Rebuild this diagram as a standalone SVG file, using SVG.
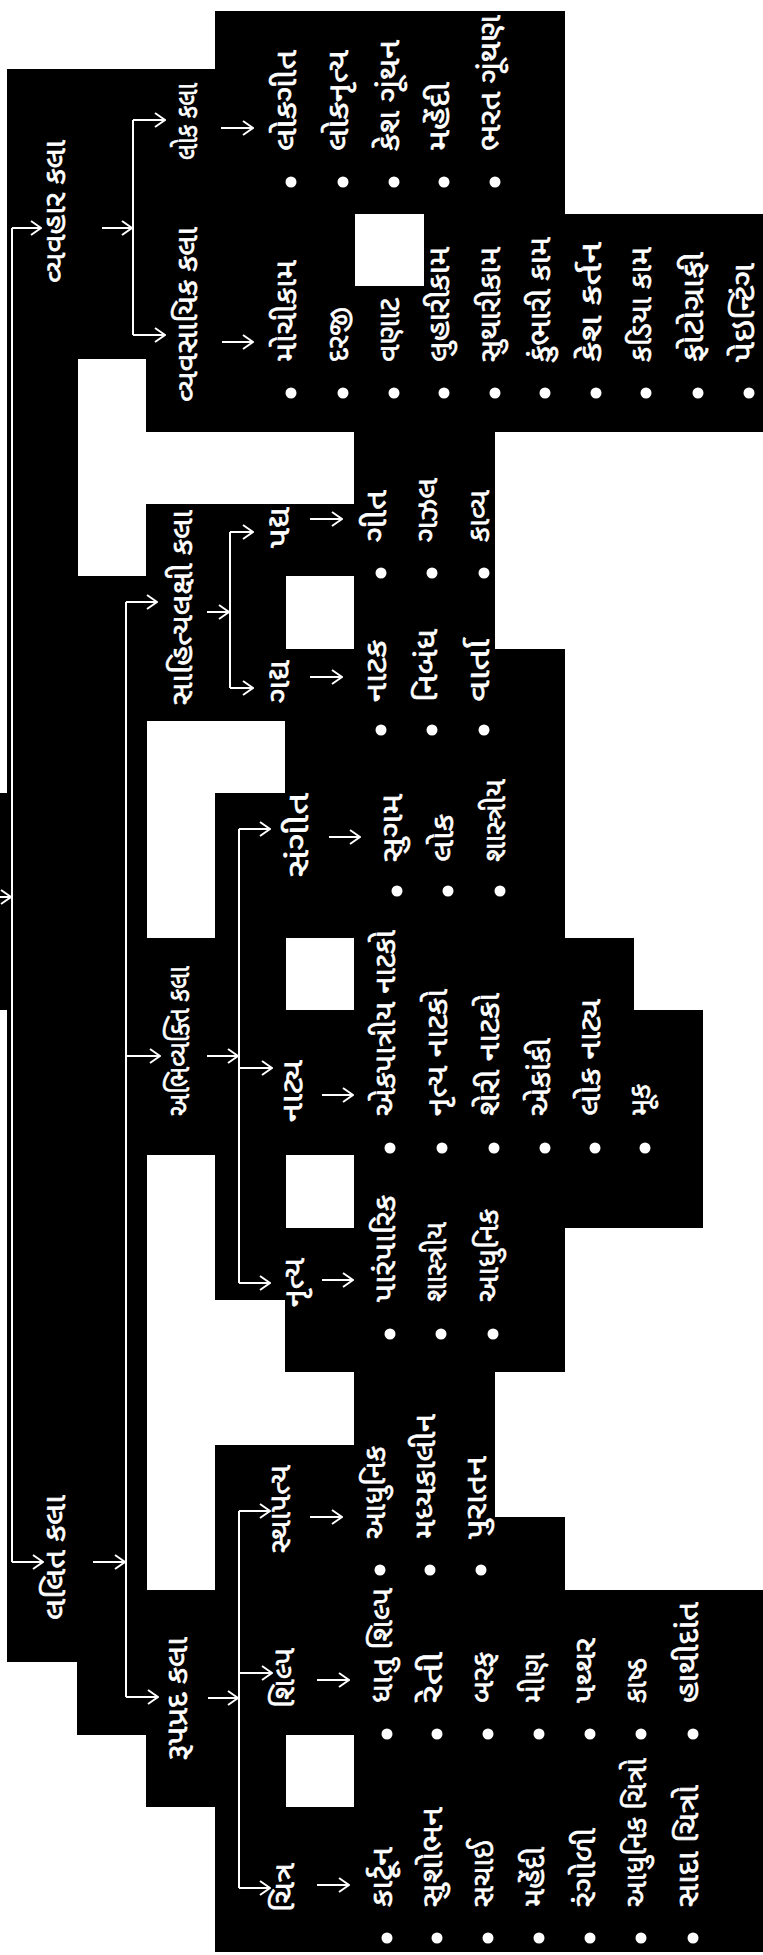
<svg xmlns="http://www.w3.org/2000/svg" width="763" height="1955" viewBox="0 0 763 1955">
<style>
.bg{fill:#000}
.t{fill:#fff;stroke:#fff;stroke-width:0.6;font-family:"Noto Sans Gujarati","Noto Serif Gujarati","Lohit Gujarati","Shruti","Noto Sans",sans-serif;font-size:29px;dominant-baseline:central}
.c{stroke:#fff;stroke-width:2;fill:none}
.b{fill:#fff}
</style>
<defs>
<marker id="ah" viewBox="0 0 12 16" refX="11" refY="8" markerWidth="12" markerHeight="16" orient="auto" markerUnits="userSpaceOnUse">
<path d="M1,1 L11,8 L1,15" stroke="#fff" stroke-width="2" fill="none"/>
</marker>
</defs>
<rect x="0" y="0" width="763" height="1955" fill="#fff"/>
<g id="background" shape-rendering="crispEdges">
<rect class="bg" x="0" y="793" width="8" height="217"/>
<rect class="bg" x="7" y="69" width="71" height="1593"/>
<rect class="bg" x="77" y="69" width="70" height="290"/>
<rect class="bg" x="77" y="576" width="70" height="1159"/>
<rect class="bg" x="146" y="69" width="70" height="363"/>
<rect class="bg" x="146" y="504" width="70" height="217"/>
<rect class="bg" x="146" y="938" width="70" height="217"/>
<rect class="bg" x="146" y="1590" width="70" height="217"/>
<rect class="bg" x="215" y="11" width="71" height="421"/>
<rect class="bg" x="215" y="504" width="71" height="217"/>
<rect class="bg" x="215" y="793" width="71" height="507"/>
<rect class="bg" x="215" y="1445" width="71" height="507"/>
<rect class="bg" x="285" y="11" width="70" height="421"/>
<rect class="bg" x="285" y="504" width="70" height="72"/>
<rect class="bg" x="285" y="649" width="70" height="289"/>
<rect class="bg" x="285" y="1010" width="70" height="145"/>
<rect class="bg" x="285" y="1228" width="70" height="144"/>
<rect class="bg" x="285" y="1445" width="70" height="290"/>
<rect class="bg" x="285" y="1807" width="70" height="145"/>
<rect class="bg" x="354" y="11" width="71" height="203"/>
<rect class="bg" x="354" y="286" width="71" height="1666"/>
<rect class="bg" x="424" y="11" width="71" height="1941"/>
<rect class="bg" x="494" y="11" width="71" height="421"/>
<rect class="bg" x="494" y="649" width="71" height="723"/>
<rect class="bg" x="494" y="1517" width="71" height="435"/>
<rect class="bg" x="564" y="214" width="70" height="218"/>
<rect class="bg" x="564" y="938" width="70" height="290"/>
<rect class="bg" x="564" y="1590" width="70" height="362"/>
<rect class="bg" x="633" y="214" width="70" height="218"/>
<rect class="bg" x="633" y="1010" width="70" height="218"/>
<rect class="bg" x="633" y="1590" width="70" height="362"/>
<rect class="bg" x="702" y="214" width="61" height="218"/>
<rect class="bg" x="702" y="1590" width="61" height="362"/>
</g>
<g id="connectors">
<path class="c" d="M-5,897 H11" marker-end="url(#ah)"/>
<path class="c" d="M12,228 V1562"/>
<path class="c" d="M12,228 H41" marker-end="url(#ah)"/>
<path class="c" d="M12,1562 H43" marker-end="url(#ah)"/>
<path class="c" d="M102,228 H132" marker-end="url(#ah)"/>
<path class="c" d="M133,120 V335"/>
<path class="c" d="M133,120 H165" marker-end="url(#ah)"/>
<path class="c" d="M133,335 H165" marker-end="url(#ah)"/>
<path class="c" d="M221,128 H253" marker-end="url(#ah)"/>
<path class="c" d="M222,342 H253" marker-end="url(#ah)"/>
<path class="c" d="M93,1562 H125" marker-end="url(#ah)"/>
<path class="c" d="M126,602 V1697"/>
<path class="c" d="M126,602 H157" marker-end="url(#ah)"/>
<path class="c" d="M126,1056 H160" marker-end="url(#ah)"/>
<path class="c" d="M126,1697 H158" marker-end="url(#ah)"/>
<path class="c" d="M207,612 H229" marker-end="url(#ah)"/>
<path class="c" d="M230,532 V688"/>
<path class="c" d="M230,532 H253" marker-end="url(#ah)"/>
<path class="c" d="M230,688 H253" marker-end="url(#ah)"/>
<path class="c" d="M207,1056 H238" marker-end="url(#ah)"/>
<path class="c" d="M239,829 V1283"/>
<path class="c" d="M239,829 H270" marker-end="url(#ah)"/>
<path class="c" d="M239,1068 H272" marker-end="url(#ah)"/>
<path class="c" d="M239,1283 H270" marker-end="url(#ah)"/>
<path class="c" d="M208,1698 H238" marker-end="url(#ah)"/>
<path class="c" d="M239,1511 V1888"/>
<path class="c" d="M239,1511 H270" marker-end="url(#ah)"/>
<path class="c" d="M239,1673 H272" marker-end="url(#ah)"/>
<path class="c" d="M239,1888 H270" marker-end="url(#ah)"/>
<path class="c" d="M310,519 H342" marker-end="url(#ah)"/>
<path class="c" d="M310,677 H342" marker-end="url(#ah)"/>
<path class="c" d="M329,837 H360" marker-end="url(#ah)"/>
<path class="c" d="M322,1095 H353" marker-end="url(#ah)"/>
<path class="c" d="M322,1280 H353" marker-end="url(#ah)"/>
<path class="c" d="M310,1517 H342" marker-end="url(#ah)"/>
<path class="c" d="M317,1680 H349" marker-end="url(#ah)"/>
<path class="c" d="M317,1885 H349" marker-end="url(#ah)"/>
</g>
<g id="n-vyavahar"><text class="t" transform="translate(58,283) rotate(-90)" textLength="143" lengthAdjust="spacingAndGlyphs">વ્યવહાર કલા</text></g>
<g id="n-lalit"><text class="t" transform="translate(58,1620) rotate(-90)" textLength="125" lengthAdjust="spacingAndGlyphs">લલિત કલા</text></g>
<g id="n-lok"><text class="t" transform="translate(190,160) rotate(-90)" textLength="77" lengthAdjust="spacingAndGlyphs">લોક કલા</text></g>
<g id="n-vyavsayik"><text class="t" transform="translate(190,402) rotate(-90)" textLength="175" lengthAdjust="spacingAndGlyphs">વ્યવસાયિક કલા</text></g>
<g id="n-sahitya"><text class="t" transform="translate(185,705) rotate(-90)" textLength="195" lengthAdjust="spacingAndGlyphs">સાહિત્યલક્ષી કલા</text></g>
<g id="n-abhivyakti"><text class="t" transform="translate(182,1116) rotate(-90)" textLength="150" lengthAdjust="spacingAndGlyphs">અભિવ્યક્તિ કલા</text></g>
<g id="n-rooppradh"><text class="t" transform="translate(180,1760) rotate(-90)" textLength="123" lengthAdjust="spacingAndGlyphs">રૂપપ્રદ કલા</text></g>
<g id="n-padya"><text class="t" transform="translate(282,548) rotate(-90)" textLength="41" lengthAdjust="spacingAndGlyphs">પદ્ય</text></g>
<g id="n-gadya"><text class="t" transform="translate(282,703) rotate(-90)" textLength="43" lengthAdjust="spacingAndGlyphs">ગદ્ય</text></g>
<g id="n-sangeet"><text class="t" transform="translate(301,877) rotate(-90)" textLength="84" lengthAdjust="spacingAndGlyphs">સંગીત</text></g>
<g id="n-natya"><text class="t" transform="translate(295,1122) rotate(-90)" textLength="62" lengthAdjust="spacingAndGlyphs">નાટ્ય</text></g>
<g id="n-nritya"><text class="t" transform="translate(297,1307) rotate(-90)" textLength="49" lengthAdjust="spacingAndGlyphs">નૃત્ય</text></g>
<g id="n-sthapatya"><text class="t" transform="translate(283,1553) rotate(-90)" textLength="88" lengthAdjust="spacingAndGlyphs">સ્થાપત્ય</text></g>
<g id="n-shilp"><text class="t" transform="translate(287,1708) rotate(-90)" textLength="60" lengthAdjust="spacingAndGlyphs">શિલ્પ</text></g>
<g id="n-chitra"><text class="t" transform="translate(287,1912) rotate(-90)" textLength="49" lengthAdjust="spacingAndGlyphs">ચિત્ર</text></g>
<g id="list-vyavsayik">
<g id="i-v1"><circle class="b" cx="291" cy="393" r="5.5"/><text class="t" transform="translate(289,362) rotate(-90)" textLength="102" lengthAdjust="spacingAndGlyphs">મોચીકામ</text></g>
<g id="i-v2"><circle class="b" cx="343" cy="393" r="5.5"/><text class="t" transform="translate(341,362) rotate(-90)" textLength="55" lengthAdjust="spacingAndGlyphs">દરજી</text></g>
<g id="i-v3"><circle class="b" cx="394" cy="393" r="5.5"/><text class="t" transform="translate(392,362) rotate(-90)" textLength="64" lengthAdjust="spacingAndGlyphs">વણાટ</text></g>
<g id="i-v4"><circle class="b" cx="444" cy="393" r="5.5"/><text class="t" transform="translate(442,362) rotate(-90)" textLength="115" lengthAdjust="spacingAndGlyphs">લુહારીકામ</text></g>
<g id="i-v5"><circle class="b" cx="495" cy="393" r="5.5"/><text class="t" transform="translate(493,362) rotate(-90)" textLength="115" lengthAdjust="spacingAndGlyphs">સુથારીકામ</text></g>
<g id="i-v6"><circle class="b" cx="545" cy="393" r="5.5"/><text class="t" transform="translate(543,362) rotate(-90)" textLength="125" lengthAdjust="spacingAndGlyphs">કુંભારી કામ</text></g>
<g id="i-v7"><circle class="b" cx="596" cy="393" r="5.5"/><text class="t" transform="translate(594,362) rotate(-90)" textLength="120" lengthAdjust="spacingAndGlyphs">કેશ કર્તન</text></g>
<g id="i-v8"><circle class="b" cx="646" cy="393" r="5.5"/><text class="t" transform="translate(644,362) rotate(-90)" textLength="115" lengthAdjust="spacingAndGlyphs">કડિયા કામ</text></g>
<g id="i-v9"><circle class="b" cx="698" cy="393" r="5.5"/><text class="t" transform="translate(696,362) rotate(-90)" textLength="110" lengthAdjust="spacingAndGlyphs">ફોટોગ્રાફી</text></g>
<g id="i-v10"><circle class="b" cx="749" cy="393" r="5.5"/><text class="t" transform="translate(747,362) rotate(-90)" textLength="99" lengthAdjust="spacingAndGlyphs">પેઇન્ટિંગ</text></g>
</g>
<g id="list-lok">
<g id="i-l1"><circle class="b" cx="291" cy="182" r="5.5"/><text class="t" transform="translate(289,151) rotate(-90)" textLength="101" lengthAdjust="spacingAndGlyphs">લોકગીત</text></g>
<g id="i-l2"><circle class="b" cx="343" cy="182" r="5.5"/><text class="t" transform="translate(341,151) rotate(-90)" textLength="101" lengthAdjust="spacingAndGlyphs">લોકનૃત્ય</text></g>
<g id="i-l3"><circle class="b" cx="394" cy="182" r="5.5"/><text class="t" transform="translate(392,151) rotate(-90)" textLength="111" lengthAdjust="spacingAndGlyphs">કેશ ગૂંથન</text></g>
<g id="i-l4"><circle class="b" cx="444" cy="182" r="5.5"/><text class="t" transform="translate(442,151) rotate(-90)" textLength="69" lengthAdjust="spacingAndGlyphs">મહેંદી</text></g>
<g id="i-l5"><circle class="b" cx="495" cy="182" r="5.5"/><text class="t" transform="translate(493,151) rotate(-90)" textLength="136" lengthAdjust="spacingAndGlyphs">ભરત ગૂંથણ</text></g>
</g>
<g id="list-padya">
<g id="i-p1"><circle class="b" cx="381" cy="573" r="5.5"/><text class="t" transform="translate(379,542) rotate(-90)" textLength="52" lengthAdjust="spacingAndGlyphs">ગીત</text></g>
<g id="i-p2"><circle class="b" cx="432" cy="573" r="5.5"/><text class="t" transform="translate(430,542) rotate(-90)" textLength="64" lengthAdjust="spacingAndGlyphs">ગઝલ</text></g>
<g id="i-p3"><circle class="b" cx="484" cy="573" r="5.5"/><text class="t" transform="translate(482,542) rotate(-90)" textLength="52" lengthAdjust="spacingAndGlyphs">કાવ્ય</text></g>
</g>
<g id="list-gadya">
<g id="i-g1"><circle class="b" cx="381" cy="730" r="5.5"/><text class="t" transform="translate(379,702) rotate(-90)" textLength="62" lengthAdjust="spacingAndGlyphs">નાટક</text></g>
<g id="i-g2"><circle class="b" cx="432" cy="730" r="5.5"/><text class="t" transform="translate(430,702) rotate(-90)" textLength="73" lengthAdjust="spacingAndGlyphs">નિબંધ</text></g>
<g id="i-g3"><circle class="b" cx="484" cy="730" r="5.5"/><text class="t" transform="translate(482,702) rotate(-90)" textLength="63" lengthAdjust="spacingAndGlyphs">વાર્તા</text></g>
</g>
<g id="list-sangeet">
<g id="i-s1"><circle class="b" cx="397" cy="891" r="5.5"/><text class="t" transform="translate(395,862) rotate(-90)" textLength="68" lengthAdjust="spacingAndGlyphs">સુગમ</text></g>
<g id="i-s2"><circle class="b" cx="448" cy="891" r="5.5"/><text class="t" transform="translate(446,862) rotate(-90)" textLength="48" lengthAdjust="spacingAndGlyphs">લોક</text></g>
<g id="i-s3"><circle class="b" cx="500" cy="891" r="5.5"/><text class="t" transform="translate(498,862) rotate(-90)" textLength="83" lengthAdjust="spacingAndGlyphs">શાસ્ત્રીય</text></g>
</g>
<g id="list-natya">
<g id="i-n1"><circle class="b" cx="390" cy="1148" r="5.5"/><text class="t" transform="translate(388,1116) rotate(-90)" textLength="186" lengthAdjust="spacingAndGlyphs">એકપાત્રીય નાટકો</text></g>
<g id="i-n2"><circle class="b" cx="442" cy="1148" r="5.5"/><text class="t" transform="translate(440,1116) rotate(-90)" textLength="127" lengthAdjust="spacingAndGlyphs">નૃત્ય નાટકો</text></g>
<g id="i-n3"><circle class="b" cx="494" cy="1148" r="5.5"/><text class="t" transform="translate(492,1116) rotate(-90)" textLength="123" lengthAdjust="spacingAndGlyphs">શેરી નાટકો</text></g>
<g id="i-n4"><circle class="b" cx="545" cy="1148" r="5.5"/><text class="t" transform="translate(543,1116) rotate(-90)" textLength="78" lengthAdjust="spacingAndGlyphs">એકાંકી</text></g>
<g id="i-n5"><circle class="b" cx="595" cy="1148" r="5.5"/><text class="t" transform="translate(593,1116) rotate(-90)" textLength="117" lengthAdjust="spacingAndGlyphs">લોક નાટ્ય</text></g>
<g id="i-n6"><circle class="b" cx="645" cy="1148" r="5.5"/><text class="t" transform="translate(643,1116) rotate(-90)" textLength="32" lengthAdjust="spacingAndGlyphs">મૂક</text></g>
</g>
<g id="list-nritya">
<g id="i-r1"><circle class="b" cx="390" cy="1334" r="5.5"/><text class="t" transform="translate(388,1302) rotate(-90)" textLength="107" lengthAdjust="spacingAndGlyphs">પારંપારિક</text></g>
<g id="i-r2"><circle class="b" cx="441" cy="1334" r="5.5"/><text class="t" transform="translate(439,1302) rotate(-90)" textLength="80" lengthAdjust="spacingAndGlyphs">શાસ્ત્રીય</text></g>
<g id="i-r3"><circle class="b" cx="493" cy="1334" r="5.5"/><text class="t" transform="translate(491,1302) rotate(-90)" textLength="93" lengthAdjust="spacingAndGlyphs">આધુનિક</text></g>
</g>
<g id="list-sthapatya">
<g id="i-t1"><circle class="b" cx="380" cy="1570" r="5.5"/><text class="t" transform="translate(378,1539) rotate(-90)" textLength="93" lengthAdjust="spacingAndGlyphs">આધુનિક</text></g>
<g id="i-t2"><circle class="b" cx="430" cy="1570" r="5.5"/><text class="t" transform="translate(428,1539) rotate(-90)" textLength="125" lengthAdjust="spacingAndGlyphs">મધ્યકાલીન</text></g>
<g id="i-t3"><circle class="b" cx="481" cy="1570" r="5.5"/><text class="t" transform="translate(479,1539) rotate(-90)" textLength="83" lengthAdjust="spacingAndGlyphs">પુરાતન</text></g>
</g>
<g id="list-shilp">
<g id="i-h1"><circle class="b" cx="387" cy="1734" r="5.5"/><text class="t" transform="translate(385,1703) rotate(-90)" textLength="115" lengthAdjust="spacingAndGlyphs">ધાતુ શિલ્પ</text></g>
<g id="i-h2"><circle class="b" cx="437" cy="1734" r="5.5"/><text class="t" transform="translate(435,1703) rotate(-90)" textLength="51" lengthAdjust="spacingAndGlyphs">રેતી</text></g>
<g id="i-h3"><circle class="b" cx="488" cy="1734" r="5.5"/><text class="t" transform="translate(486,1703) rotate(-90)" textLength="51" lengthAdjust="spacingAndGlyphs">બરફ</text></g>
<g id="i-h4"><circle class="b" cx="539" cy="1734" r="5.5"/><text class="t" transform="translate(537,1703) rotate(-90)" textLength="50" lengthAdjust="spacingAndGlyphs">મીણ</text></g>
<g id="i-h5"><circle class="b" cx="590" cy="1734" r="5.5"/><text class="t" transform="translate(588,1703) rotate(-90)" textLength="65" lengthAdjust="spacingAndGlyphs">પથ્થર</text></g>
<g id="i-h6"><circle class="b" cx="641" cy="1734" r="5.5"/><text class="t" transform="translate(639,1703) rotate(-90)" textLength="45" lengthAdjust="spacingAndGlyphs">કાષ્ઠ</text></g>
<g id="i-h7"><circle class="b" cx="693" cy="1734" r="5.5"/><text class="t" transform="translate(691,1703) rotate(-90)" textLength="101" lengthAdjust="spacingAndGlyphs">હાથીદાંત</text></g>
</g>
<g id="list-chitra">
<g id="i-c1"><circle class="b" cx="387" cy="1938" r="5.5"/><text class="t" transform="translate(385,1907) rotate(-90)" textLength="60" lengthAdjust="spacingAndGlyphs">કાર્ટૂન</text></g>
<g id="i-c2"><circle class="b" cx="437" cy="1938" r="5.5"/><text class="t" transform="translate(435,1907) rotate(-90)" textLength="100" lengthAdjust="spacingAndGlyphs">સુશોભન</text></g>
<g id="i-c3"><circle class="b" cx="488" cy="1938" r="5.5"/><text class="t" transform="translate(486,1907) rotate(-90)" textLength="67" lengthAdjust="spacingAndGlyphs">સચાઈ</text></g>
<g id="i-c4"><circle class="b" cx="539" cy="1938" r="5.5"/><text class="t" transform="translate(537,1907) rotate(-90)" textLength="60" lengthAdjust="spacingAndGlyphs">મહેંદી</text></g>
<g id="i-c5"><circle class="b" cx="590" cy="1938" r="5.5"/><text class="t" transform="translate(588,1907) rotate(-90)" textLength="79" lengthAdjust="spacingAndGlyphs">રંગોળી</text></g>
<g id="i-c6"><circle class="b" cx="641" cy="1938" r="5.5"/><text class="t" transform="translate(639,1907) rotate(-90)" textLength="149" lengthAdjust="spacingAndGlyphs">આધુનિક ચિત્રો</text></g>
<g id="i-c7"><circle class="b" cx="693" cy="1938" r="5.5"/><text class="t" transform="translate(691,1907) rotate(-90)" textLength="122" lengthAdjust="spacingAndGlyphs">સાદા ચિત્રો</text></g>
</g>
</svg>
